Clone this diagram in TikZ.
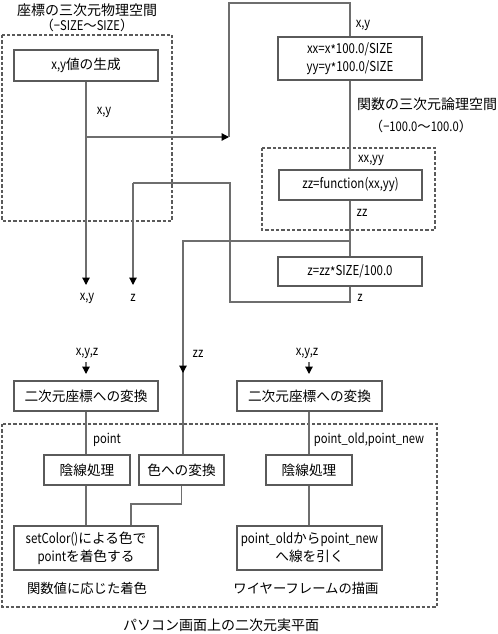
\documentclass[tikz,border=0pt]{standalone}
\usepackage{fontspec}
\setmainfont{Noto Sans CJK JP}
\newfontfamily\lt[FakeStretch=0.84]{Noto Sans CJK JP}
\newcommand{\lx}[1]{{\lt #1}}
\newcommand{\lowast}{\raisebox{-0.3ex}{*}}
\usetikzlibrary{arrows.meta}
\definecolor{ln}{HTML}{6E6E6E}
\definecolor{bx}{HTML}{5A5A5A}
\tikzset{
  box/.style={draw=bx, line width=0.9pt, fill=white, align=center, inner sep=0pt, font=\fontsize{10.25}{13.5}\selectfont},
  lbl/.style={inner sep=0pt, font=\fontsize{10}{12}\selectfont, align=center},
  ltl/.style={inner sep=0pt, font=\lt\fontsize{10}{12}\selectfont, align=center},
  ttl/.style={inner sep=0pt, font=\fontsize{10.5}{12}\selectfont, align=center},
  conn/.style={draw=ln, line width=0.9pt},
  arr/.style={conn, -{Triangle[length=5.5pt,width=5.5pt,fill=black,color=black]}},
  grp/.style={draw=bx, line width=0.8pt, dash pattern=on 2.4pt off 1.6pt},
}
\begin{document}
\begin{tikzpicture}[x=0.75pt,y=-0.75pt]
\useasboundingbox (0,0) rectangle (498,634);
% dashed groups
\draw[grp] (2,35) rectangle (172,221);
\draw[grp] (262,148) rectangle (435,230);
\draw[grp] (2,424) rectangle (437,607);
% coordinates
\coordinate (xyend) at (86,285);
\coordinate (b1) at (86,137);
\coordinate (b2) at (229,137);
\coordinate (top) at (229,3);
\coordinate (zzb) at (350,241);
\coordinate (zzc) at (183,241);
\coordinate (zzarr) at (183,373);
\coordinate (zr) at (350,302);
\coordinate (zl) at (230,302);
\coordinate (zu) at (230,183);
\coordinate (zk) at (133,183);
\coordinate (zend) at (133,285);
\coordinate (a1s) at (86,362);
\coordinate (a1e) at (86,374);
\coordinate (a2s) at (309,362);
\coordinate (a2e) at (309,374);
\coordinate (cl) at (131,504);
% boxes
\node[box, minimum width=108pt, minimum height=23.25pt] (gen) at (86,65.5) {\lx{x,y}値の生成};
\node[box, minimum width=108pt, minimum height=32.25pt] (xx) at (350,58.5) {\lt xx=x\lowast100.0/SIZE\\\lt yy=y\lowast100.0/SIZE};
\node[box, minimum width=107.25pt, minimum height=22.5pt] (func) at (350.5,185) {\lt zz=function(xx,yy)};
\node[box, minimum width=108pt, minimum height=21.75pt] (zbox) at (350,271.5) {\lt z=zz\lowast SIZE/100.0};
\node[box, minimum width=108pt, minimum height=22.5pt] (conv1) at (86,396) {二次元座標への変換};
\node[box, minimum width=108.75pt, minimum height=22.5pt] (conv2) at (309.5,396) {二次元座標への変換};
\node[box, minimum width=64.5pt, minimum height=22.5pt] (hid1) at (87,470) {陰線処理};
\node[box, minimum width=63.75pt, minimum height=22.5pt] (col) at (181.5,470) {色への変換};
\node[box, minimum width=64.5pt, minimum height=22.5pt] (hid2) at (309,470) {陰線処理};
\node[box, minimum width=108pt, minimum height=33pt] (setc) at (86,548) {\lx{setColor()}による色で\\\lx{point}を着色する};
\node[box, minimum width=108.75pt, minimum height=33pt] (pold) at (309.5,548) {\lx{point\_old}から\lx{point\_new}\\へ線を引く};
% connectors
\draw[arr] (gen.south -| b1) -- (xyend);
\draw[arr] (b1) -- (b2);
\draw[conn] (b2) -- (top) -| (xx.north);
\draw[conn] (xx.south) -- (xx.south |- func.north);
\draw[conn] (xx.south |- func.south) -- (zbox.north);
\draw[conn] (zzb) -- (zzc) -- (zzc |- col.north);
\draw[arr] (zzc) -- (zzarr);
\draw[conn] (zbox.south) -- (zr) -- (zl) -- (zu) -- (zk);
\draw[arr] (zk) -- (zend);
\draw[arr] (a1s) -- (a1e);
\draw[arr] (a2s) -- (a2e);
\draw[conn] (conv1.south) -- (hid1.north -| conv1.south);
\draw[conn] (hid1.south -| conv1.south) -- (setc.north);
\draw[conn] (col.south) -- (col.south |- cl) -- (cl) -- (cl |- setc.north);
\draw[conn] (conv2.south -| a2s) -- (hid2.north);
\draw[conn] (hid2.south) -- (pold.north -| hid2.south);
% labels
\node[ttl] (t1) at (87,10) {座標の三次元物理空間};
\node[lbl] (t1b) at (87,25) {（\lx{−SIZE}～\lx{SIZE}）};
\node[ltl] (l1) at (104,112) {x,y};
\node[ltl] (l2) at (363,25) {x,y};
\node[ttl] (t2) at (427,104) {関数の三次元論理空間};
\node[lbl] (t2b) at (421,126) {（\lx{−100.0}～\lx{100.0}）};
\node[ltl] (l3) at (371,160) {xx,yy};
\node[ltl] (l4) at (362,213) {zz};
\node[ltl] (l5) at (87,298) {x,y};
\node[ltl] (l6) at (133,298) {z};
\node[ltl] (l7) at (360,298) {z};
\node[ltl] (l8) at (87,353) {x,y,z};
\node[ltl] (l9) at (198,354) {zz};
\node[ltl] (l10) at (307,353) {x,y,z};
\node[ltl] (l11) at (107,440) {point};
\node[ltl] (l12) at (369,440) {point\_old,point\_new};
\node[lbl] (t3) at (87,588) {関数値に応じた着色};
\node[lbl] (t4) at (306,588) {ワイヤーフレームの描画};
\node[ttl] (t5) at (221,625) {パソコン画面上の二次元実平面};
\end{tikzpicture}
\end{document}
